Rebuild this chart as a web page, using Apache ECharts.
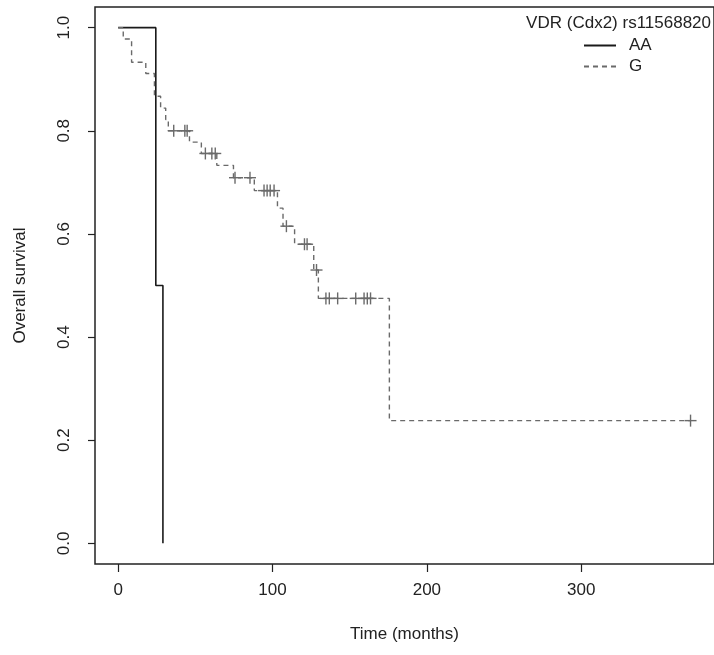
<!DOCTYPE html>
<html>
<head>
<meta charset="utf-8">
<script src="https://cdn.jsdelivr.net/npm/echarts@6/dist/echarts.min.js"></script>
<style>
html,body{margin:0;padding:0;background:#fff;}
#chart{width:714px;height:655px;}
</style>
</head>
<body>
<div id="chart"></div>
<script>
// ---- data ----
const legendTitle = 'VDR (Cdx2) rs11568820';
const groupNames = ['AA', 'G'];
const xTicks = [0, 100, 200, 300];
const yTicks = [0, 0.2, 0.4, 0.6, 0.8, 1.0];

const aaTimes = [0, 24.4, 29];
const aaSurv  = [1.0, 0.5, 0.0];

const gTimes = [0, 3.3, 8.7, 17.9, 23.5, 27.5, 30.8, 32.5, 46.2, 53.9, 63.9, 74.7, 88.2, 103.2, 106.8, 114.3, 126.7, 129.7, 175.7, 370.8];
const gSurv  = [1.0, 0.978, 0.933, 0.911, 0.867, 0.844, 0.822, 0.800, 0.778, 0.756, 0.733, 0.709, 0.684, 0.650, 0.615, 0.580, 0.530, 0.475, 0.238, 0.238];

const gCensorTimes = [36.0, 43.2, 44.7, 56.5, 60.7, 62.9, 75.7, 85.4, 94.5, 96.5, 98.5, 101, 109, 120.7, 122.4, 128.5, 134.6, 136.8, 142.2, 153.9, 159.3, 161.4, 163.5, 370.8];
const gCensorSurv  = [0.800, 0.800, 0.800, 0.756, 0.756, 0.756, 0.709, 0.709, 0.684, 0.684, 0.684, 0.684, 0.615, 0.580, 0.580, 0.530, 0.475, 0.475, 0.475, 0.475, 0.475, 0.475, 0.475, 0.238];

// ---- chart ----
const FONT = "'Liberation Sans', Arial, sans-serif";
const FS = 17;
const TXT = '#222';
const zip = (a, b) => a.map((v, i) => [v, b[i]]);

const chart = echarts.init(document.getElementById('chart'), null, {renderer: 'canvas'});
chart.setOption({
  animation: false,
  backgroundColor: '#fff',
  textStyle: {fontFamily: FONT},
  title: {
    text: legendTitle,
    right: 3, top: 15, padding: 0,
    textStyle: {fontFamily: FONT, fontSize: FS, fontWeight: 'normal', color: TXT}
  },
  legend: {
    data: groupNames,
    orient: 'vertical',
    left: 583, top: 37, padding: 0,
    itemWidth: 32, itemHeight: 14, itemGap: 4,
    itemStyle: {opacity: 0},
    textStyle: {fontFamily: FONT, fontSize: FS, color: TXT, padding: [0, 0, 0, 8]}
  },
  grid: {
    left: 95, top: 7, bottom: 91, right: -5,
    show: true, borderColor: '#222', borderWidth: 1.5, backgroundColor: 'transparent'
  },
  xAxis: {
    type: 'value', min: -15, max: 386,
    name: 'Time (months)', nameLocation: 'middle', nameGap: 62,
    nameTextStyle: {fontFamily: FONT, fontSize: FS, color: TXT},
    axisLine: {show: false, onZero: false},
    axisTick: {show: true, customValues: xTicks, length: 8, lineStyle: {color: '#222', width: 1.2}},
    axisLabel: {customValues: xTicks, margin: 18, fontFamily: FONT, fontSize: FS, color: TXT},
    splitLine: {show: false}
  },
  yAxis: {
    type: 'value', min: -0.04, max: 1.04,
    name: 'Overall survival', nameLocation: 'middle', nameGap: 66,
    nameTextStyle: {fontFamily: FONT, fontSize: FS, color: TXT},
    axisLine: {show: false, onZero: false},
    axisTick: {show: true, customValues: yTicks, length: 7, lineStyle: {color: '#222', width: 1.2}},
    axisLabel: {customValues: yTicks, rotate: 90, margin: 22, fontFamily: FONT, fontSize: FS, color: TXT,
      formatter: v => Number(v).toFixed(1)},
    splitLine: {show: false}
  },
  series: [
    {
      name: 'AA', type: 'line', step: 'end', symbol: 'none',
      data: zip(aaTimes, aaSurv),
      lineStyle: {color: '#1a1a1a', width: 1.6, type: 'solid'},
      itemStyle: {color: '#1a1a1a'}
    },
    {
      name: 'G', type: 'line', step: 'end', symbol: 'none',
      data: zip(gTimes, gSurv),
      lineStyle: {color: '#6a6a6a', width: 1.4, type: [5, 4]},
      itemStyle: {color: '#6a6a6a'}
    },
    {
      name: 'G censored', type: 'custom',
      data: zip(gCensorTimes, gCensorSurv),
      renderItem: function (params, api) {
        const p = api.coord([api.value(0), api.value(1)]);
        const h = 6;
        const st = {stroke: '#6a6a6a', lineWidth: 1.4};
        return {
          type: 'group',
          children: [
            {type: 'line', shape: {x1: p[0] - h, y1: p[1], x2: p[0] + h, y2: p[1]}, style: st},
            {type: 'line', shape: {x1: p[0], y1: p[1] - h, x2: p[0], y2: p[1] + h}, style: st}
          ]
        };
      }
    }
  ]
});
</script>
</body>
</html>
